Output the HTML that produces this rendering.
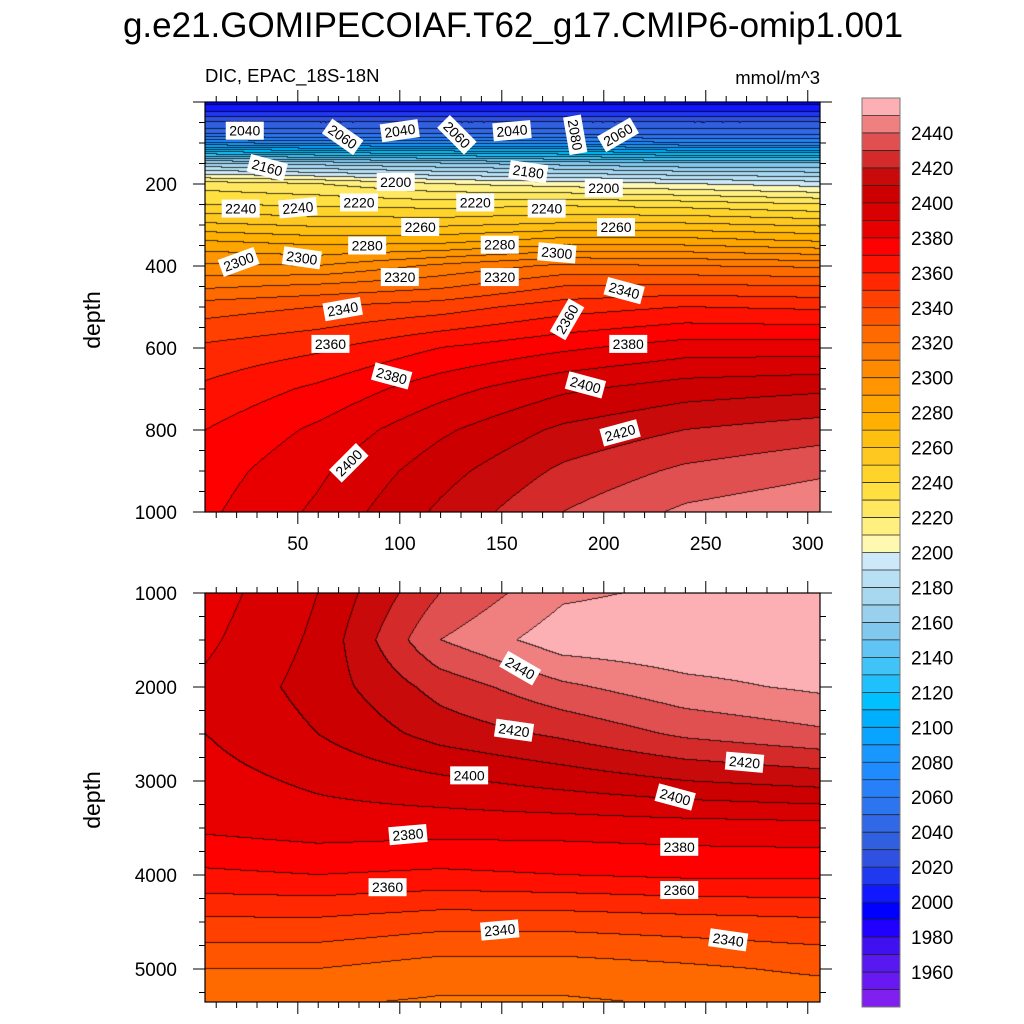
<!DOCTYPE html>
<html><head><meta charset="utf-8">
<style>
body{margin:0;background:#fff;width:1024px;height:1024px;overflow:hidden;font-family:"Liberation Sans",sans-serif}
canvas{position:absolute}
svg{position:absolute;left:0;top:0}
</style></head><body>
<canvas id="c1" width="615" height="410" style="left:205px;top:102px"></canvas>
<canvas id="c2" width="615" height="409" style="left:205px;top:593px"></canvas>
<svg id="s" width="1024" height="1024"></svg>
<script>
// ---- data ----
const xs = [5, 60, 120, 180, 240, 306];
const topDepths = [0,25,50,75,100,150,200,250,300,350,400,450,500,600,700,800,900,1000];
const topVals = [
[1995,1995,1995,1995,1995,1995],
[2010,2010,2010,2010,2010,2010],
[2030,2030,2030,2030,2030,2030],
[2045,2045,2045,2045,2045,2045],
[2080,2075,2075,2075,2070,2070],
[2170,2165,2160,2155,2150,2150],
[2225,2220,2210,2205,2200,2195],
[2240,2238,2235,2238,2235,2230],
[2262,2258,2258,2262,2262,2258],
[2285,2280,2282,2290,2290,2285],
[2302,2300,2312,2322,2320,2318],
[2318,2322,2328,2340,2342,2340],
[2335,2340,2345,2355,2360,2358],
[2352,2358,2370,2378,2385,2385],
[2362,2372,2386,2398,2405,2408],
[2370,2382,2398,2412,2420,2425],
[2375,2388,2406,2422,2432,2438],
[2378,2392,2412,2430,2442,2448]];
const botDepths = [1000,1500,2000,2500,3000,3500,4000,4500,5000,5400];
const botVals = [
[2385,2400,2430,2448,2452,2452],
[2388,2402,2440,2456,2458,2458],
[2392,2404,2424,2438,2447,2452],
[2390,2400,2414,2422,2432,2438],
[2386,2392,2398,2404,2410,2414],
[2382,2385,2384,2384,2385,2386],
[2368,2370,2368,2370,2372,2372],
[2348,2348,2344,2344,2346,2348],
[2330,2330,2325,2325,2328,2332],
[2325,2320,2318,2318,2320,2322]];
const levels0 = 1950, levelStep = 10;
const palette = ["#8020f0","#6818f0","#5818f0","#4010f0","#2000ff","#0000ff","#1018ff","#2038f0","#3050e0","#3060e0","#3068e8","#2c74f0","#2880f8","#1e8cff","#1898ff","#08a4ff","#00b0ff","#00c0ff","#20c0fc","#40c4f8","#60c4f4","#80c8ee","#98d0ee","#a8d8f0","#b8e0f4","#cde8f8",
"#fff8b0","#fff080","#ffe860","#ffe040","#ffd42a","#ffc820","#ffbf10","#ffb000","#ffa500","#ff9500","#ff8a00","#ff7a00","#ff6a00","#ff5500","#ff4000","#ff2800","#ff1000","#ff0000","#e80000","#d80000","#cc0000","#c80a0a","#d42a2a","#e05050","#f08080","#fdb0b3"];
const cbLabels = [2440,2420,2400,2380,2360,2340,2320,2300,2280,2260,2240,2220,2200,2180,2160,2140,2120,2100,2080,2060,2040,2020,2000,1980,1960];
const topLabels = [[2040,24,70,0],[2060,72,85,35],[2040,100,70,-8],[2060,128,80,45],[2040,155,70,-5],[2080,186,80,80],[2060,207,80,-30],
[2160,35,160,15],[2180,163,170,8],[2200,98,195,0],[2200,200,210,0],[2240,22,260,0],[2240,50,258,-5],[2220,80,245,0],[2220,137,245,0],[2240,172,260,0],[2260,110,305,0],[2260,206,305,0],
[2300,21,390,-20],[2300,52,380,8],[2280,84,350,0],[2280,149,348,0],[2300,177,368,5],[2320,100,427,0],[2320,149,427,0],[2340,72,505,-10],[2340,210,460,15],[2360,182,530,-60],[2360,66,590,0],[2380,212,590,0],[2380,96,668,15],[2400,191,690,15],[2400,75,880,-45],[2420,208,807,-15]];
const botLabels = [[2440,159,1800,30],[2420,156,2460,8],[2420,269,2800,5],[2400,134,2940,0],[2400,235,3170,15],[2380,104,3570,-5],[2380,237,3700,0],[2360,94,4130,0],[2360,237,4160,0],[2340,149,4585,-5],[2340,261,4690,8]];

// ---- geometry ----
const PX0=205, PW=615, XMIN=4.5, XMAX=306;
const T={y0:102,h:410,dmin:0,dmax:1000}, B={y0:593,h:409,dmin:1000,dmax:5351};
const sx=x=>PX0+(x-XMIN)/(XMAX-XMIN)*PW;
const sy=(P,d)=>P.y0+(d-P.dmin)/(P.dmax-P.dmin)*P.h;

function seg(arr,v){let i=0;while(i<arr.length-2&&v>arr[i+1])i++;let t=(v-arr[i])/(arr[i+1]-arr[i]);return [i,Math.max(0,Math.min(1,t))];}
function interp(ds,vals,x,d){const [i,tx]=seg(xs,x);const [j,ty]=seg(ds,d);
 const a=vals[j][i]*(1-tx)+vals[j][i+1]*tx, b=vals[j+1][i]*(1-tx)+vals[j+1][i+1]*tx;return a*(1-ty)+b*ty;}
function hex(h){return [parseInt(h.substr(1,2),16),parseInt(h.substr(3,2),16),parseInt(h.substr(5,2),16)];}
const pal=palette.map(hex);
function lvl(v){let k=Math.floor((v-levels0)/levelStep)+1;return Math.max(0,Math.min(palette.length-1,k));}
function draw(id,P,ds,vals){const c=document.getElementById(id),ctx=c.getContext('2d');const W=c.width,H=c.height;
 const img=ctx.createImageData(W,H);const L=new Int16Array(W*H);
 for(let y=0;y<H;y++){const d=P.dmin+(y+0.5)/H*(P.dmax-P.dmin);for(let x=0;x<W;x++){const xv=XMIN+(x+0.5)/W*(XMAX-XMIN);L[y*W+x]=lvl(interp(ds,vals,xv,d));}}
 for(let y=0;y<H;y++)for(let x=0;x<W;x++){const k=L[y*W+x];let c3=pal[k];let edge=(x<W-1&&L[y*W+x+1]!==k)||(y<H-1&&L[(y+1)*W+x]!==k);
  const o=(y*W+x)*4;const f=edge?0.25:1;img.data[o]=c3[0]*f;img.data[o+1]=c3[1]*f;img.data[o+2]=c3[2]*f;img.data[o+3]=255;}
 ctx.putImageData(img,0,0);}
draw('c1',T,topDepths,topVals);
draw('c2',B,botDepths,botVals);

// ---- svg overlay ----
const S=document.getElementById('s');const NS='http://www.w3.org/2000/svg';
function el(t,a,txt){const e=document.createElementNS(NS,t);for(const k in a)e.setAttribute(k,a[k]);if(txt!==undefined)e.textContent=txt;S.appendChild(e);return e;}
let e;
e=el('text',{x:513,y:37,'text-anchor':'middle','font-size':35},'g.e21.GOMIPECOIAF.T62_g17.CMIP6-omip1.001');


e=el('text',{x:205,y:82,'font-size':18.5},'DIC, EPAC_18S-18N');


e=el('text',{x:820,y:84,'text-anchor':'end','font-size':18.5},'mmol/m^3');


[[T,320,'upper-y-axis-title'],[B,800,'lower-y-axis-title']].forEach(([P,cy,n])=>{
 e=el('text',{x:100,y:cy,'text-anchor':'middle','font-size':23,transform:`rotate(-90 100 ${cy})`},'depth');
 
 
});
function frame(P,name,yt,xlab){
 e=el('rect',{x:PX0,y:P.y0,width:PW,height:P.h,fill:'none',stroke:'#000','stroke-width':1.2});
 
 
 const step=yt[1]-yt[0];
 for(let d=P.dmin;d<=P.dmax;d+=step/4){const y=sy(P,d);const maj=Math.abs((d/step)-Math.round(d/step))<1e-6;const L=maj?12:6;
  el('line',{x1:PX0-L,y1:y,x2:PX0,y2:y,stroke:'#000'});el('line',{x1:PX0+PW,y1:y,x2:PX0+PW+L,y2:y,stroke:'#000'});}
 yt.forEach(v=>{e=el('text',{x:PX0-28,y:sy(P,v)+7,'text-anchor':'end','font-size':19},v);
  
  });
 for(let x=10;x<=XMAX;x+=10){const X=sx(x);const maj=x%50===0;const L=maj?12:6;
  el('line',{x1:X,y1:P.y0+P.h,x2:X,y2:P.y0+P.h+L,stroke:'#000'});el('line',{x1:X,y1:P.y0-L,x2:X,y2:P.y0,stroke:'#000'});
  if(maj&&xlab){e=el('text',{x:X,y:P.y0+P.h+38,'text-anchor':'middle','font-size':19},x);
   
   }}
}
frame(T,'upper-panel',[200,400,600,800,1000],true);
frame(B,'lower-panel',[1000,2000,3000,4000,5000],false);
function labels(P,arr,name){arr.forEach(([v,x,d,a])=>{const X=sx(x),Y=sy(P,d);
 const g=el('g',{transform:`translate(${X},${Y}) rotate(${a})`});
 
 
 const r=document.createElementNS(NS,'rect');r.setAttribute('x',-19);r.setAttribute('y',-9);r.setAttribute('width',38);r.setAttribute('height',18);r.setAttribute('fill','#fff');g.appendChild(r);
 const t=document.createElementNS(NS,'text');t.setAttribute('x',0);t.setAttribute('y',5);t.setAttribute('text-anchor','middle');t.setAttribute('font-size',14);t.textContent=v;g.appendChild(t);});}
labels(T,topLabels,'upper-contour-label');
labels(B,botLabels,'lower-contour-label');
// colorbar
const CB={x:862,y:98,w:38,h:909};const bh=CB.h/palette.length;
palette.forEach((c,i)=>{const y=CB.y+CB.h-(i+1)*bh;
 e=el('rect',{x:CB.x,y:y,width:CB.w,height:bh+0.5,fill:c});
 
 
 if(i>0)el('line',{x1:CB.x,y1:CB.y+CB.h-i*bh,x2:CB.x+CB.w,y2:CB.y+CB.h-i*bh,stroke:'#222','stroke-width':0.8});});
el('rect',{x:CB.x,y:CB.y,width:CB.w,height:CB.h,fill:'none',stroke:'#777'});
cbLabels.forEach(v=>{const i=(v-levels0)/levelStep+1;const y=CB.y+CB.h-i*bh;
 e=el('text',{x:911,y:y+7,'font-size':19},v);
 
 });
</script>
</body></html>
